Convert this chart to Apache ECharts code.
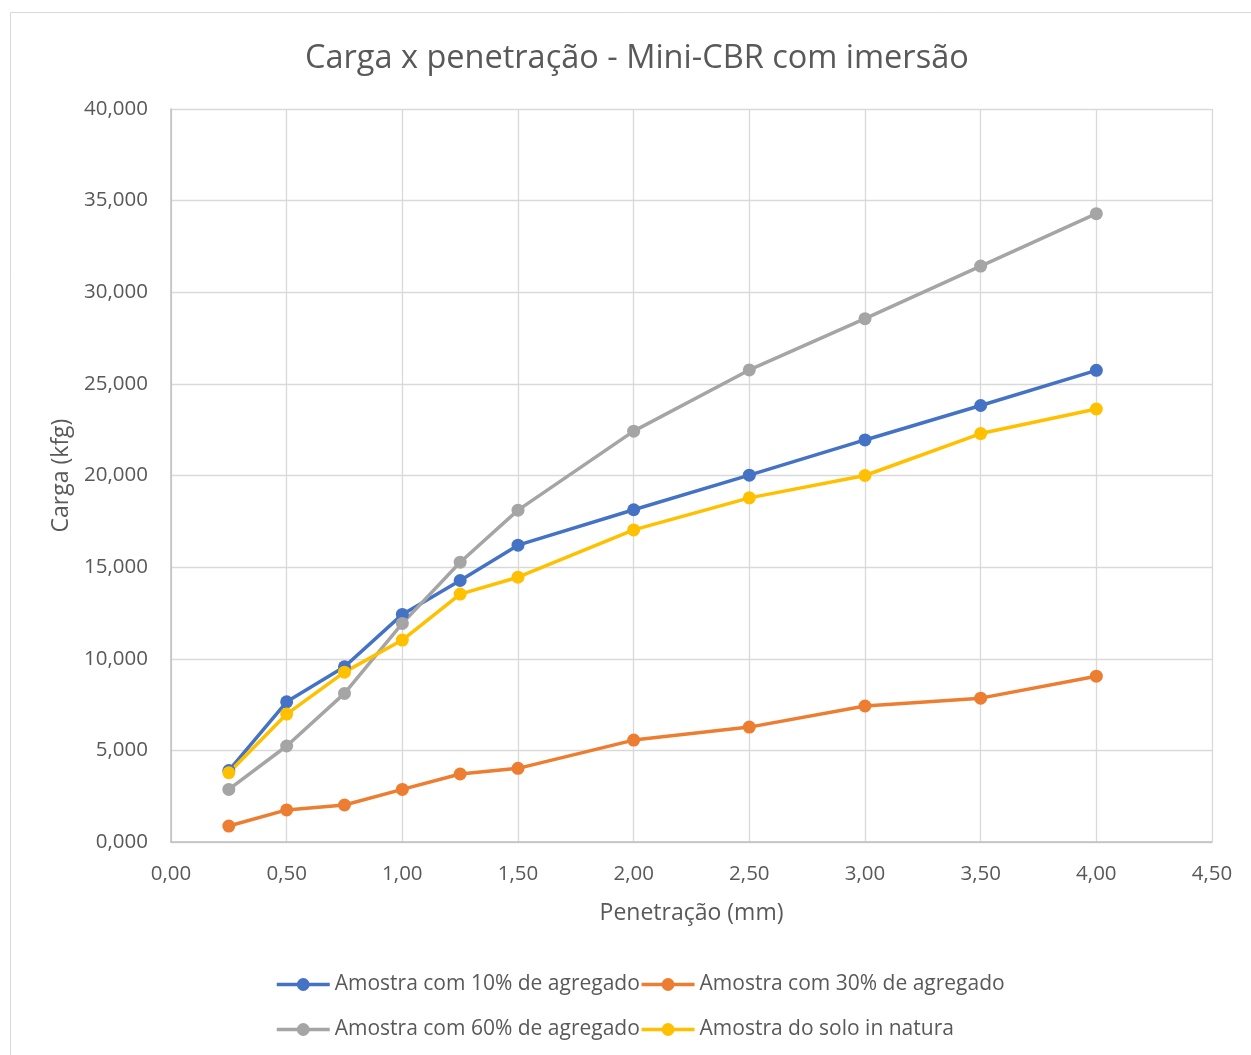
<!DOCTYPE html>
<html>
<head>
<meta charset="utf-8">
<script src="https://cdn.jsdelivr.net/npm/echarts@6/dist/echarts.min.js"></script>
<style>
html,body{margin:0;padding:0;background:#fff;}
#chart{width:1251px;height:1055px;}
</style>
</head>
<body>
<div id="chart"></div>
<script>
const penetracao = [0.25, 0.5, 0.75, 1.0, 1.25, 1.5, 2.0, 2.5, 3.0, 3.5, 4.0];
const seriesNames = [
  'Amostra com 10% de agregado',
  'Amostra com 30% de agregado',
  'Amostra com 60% de agregado',
  'Amostra do solo in natura'
];
const carga10 = [3.90, 7.65, 9.56, 12.42, 14.27, 16.20, 18.13, 20.02, 21.94, 23.82, 25.74];
const carga30 = [0.87, 1.75, 2.02, 2.87, 3.71, 4.02, 5.56, 6.27, 7.42, 7.85, 9.05];
const carga60 = [2.87, 5.24, 8.11, 11.93, 15.27, 18.11, 22.42, 25.76, 28.56, 31.43, 34.29];
const cargaNatura = [3.78, 6.98, 9.27, 11.02, 13.53, 14.45, 17.03, 18.78, 20.00, 22.29, 23.63];
const colors = ['#4472C4', '#ED7D31', '#A5A5A5', '#FFC000'];

const allData = [carga10, carga30, carga60, cargaNatura];
const FONT = '"Open Sans", "Noto Sans", sans-serif';
const TXT = '#595959';

const legendCommon = {
  itemWidth: 53, itemHeight: 16, itemGap: 0,
  lineStyle: { width: 3.5 },
  textStyle: { fontFamily: FONT, fontSize: 21, color: TXT }
};

const chart = echarts.init(document.getElementById('chart'));
chart.setOption({
  animation: false,
  backgroundColor: '#fff',
  graphic: [{
    type: 'rect', left: 8, top: 10,
    shape: { width: 1400, height: 1200 },
    style: { fill: 'none', stroke: '#d9d9d9', lineWidth: 1 },
    silent: true
  }],
  title: {
    text: 'Carga x penetração - Mini-CBR com imersão',
    left: 300, top: 37,
    textStyle: { fontFamily: FONT, fontSize: 32.5, fontWeight: 'normal', color: TXT }
  },
  grid: { left: 171, right: 39, top: 109, bottom: 213, containLabel: false },
  legend: [
    Object.assign({ data: seriesNames.slice(0, 2), left: 270, top: 969 }, legendCommon),
    Object.assign({ data: seriesNames.slice(2, 4), left: 270, top: 1014 }, legendCommon)
  ],
  xAxis: {
    type: 'value', min: 0, max: 4.5, interval: 0.5,
    name: 'Penetração (mm)', nameLocation: 'middle', nameGap: 60,
    nameTextStyle: { fontFamily: FONT, fontSize: 23, color: TXT },
    axisLine: { show: true, lineStyle: { color: '#bfbfbf', width: 1.5 } },
    axisTick: { show: false },
    axisLabel: {
      margin: 22, fontFamily: FONT, fontSize: 20.5, color: TXT,
      formatter: v => v.toFixed(2).replace('.', ',')
    },
    splitLine: { show: true, lineStyle: { color: '#d9d9d9', width: 1.3 } }
  },
  yAxis: {
    type: 'value', min: 0, max: 40, interval: 5,
    name: 'Carga (kfg)', nameLocation: 'middle', nameGap: 98,
    nameTextStyle: { fontFamily: FONT, fontSize: 23, color: TXT },
    axisLine: { show: true, lineStyle: { color: '#bfbfbf', width: 1.5 } },
    axisTick: { show: false },
    axisLabel: {
      margin: 23, fontFamily: FONT, fontSize: 20.5, color: TXT,
      formatter: v => v.toFixed(3).replace('.', ',')
    },
    splitLine: { show: true, lineStyle: { color: '#d9d9d9', width: 1.3 } }
  },
  series: seriesNames.map((n, i) => ({
    name: n,
    type: 'line',
    data: penetracao.map((x, j) => [x, allData[i][j]]),
    color: colors[i],
    symbol: 'circle',
    symbolSize: 13,
    lineStyle: { width: 3.5, color: colors[i] },
    itemStyle: { color: colors[i] }
  }))
});
</script>
</body>
</html>
